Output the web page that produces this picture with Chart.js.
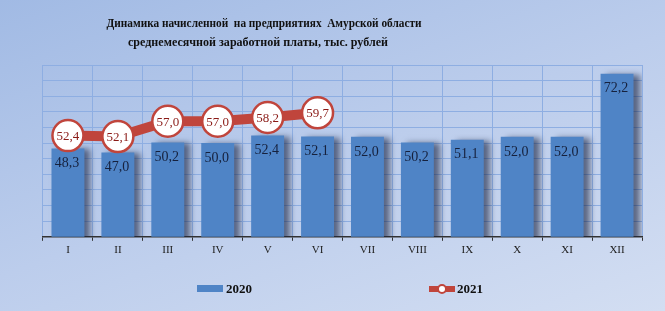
<!DOCTYPE html>
<html>
<head>
<meta charset="utf-8">
<script src="https://cdn.jsdelivr.net/npm/chart.js@4"></script>
<style>
  html, body { margin: 0; padding: 0; }
  body {
    width: 665px; height: 311px; overflow: hidden;
    background: linear-gradient(160deg, #a1bae4 0%, #bccdec 50%, #d3def2 100%);
  }
  #wrap { position: relative; width: 665px; height: 311px; }
</style>
</head>
<body>
<div id="wrap"><canvas id="myChart" width="665" height="311"></canvas></div>
<script>
// data
var months = ["I", "II", "III", "IV", "V", "VI", "VII", "VIII", "IX", "X", "XI", "XII"];
var wage2020 = [48.3, 47.0, 50.2, 50.0, 52.4, 52.1, 52.0, 50.2, 51.1, 52.0, 52.0, 72.2];
var wage2021 = [52.4, 52.1, 57.0, 57.0, 58.2, 59.7, null, null, null, null, null, null];
var seriesNames = ["2020", "2021"];
var titleLines = ["Динамика начисленной  на предприятиях  Амурской области",
                  "среднемесячной заработной платы, тыс. рублей"];

var barColor = '#4f84c6';
var lineColor = '#c0453c';
var gridColor = '#8eaee2';
var serif = "'Liberation Serif', 'Times New Roman', serif";

function fmt(v) { return v.toFixed(1).replace('.', ','); }

// bar shadow
var barShadow = {
  id: 'barShadow',
  beforeDatasetDraw: function (chart, args) {
    if (args.index !== 0) return;
    var ctx = chart.ctx;
    ctx.save();
    ctx.shadowColor = 'rgba(20,30,60,0.6)';
    ctx.shadowBlur = 6;
    ctx.shadowOffsetX = 6;
    ctx.shadowOffsetY = 1;
  },
  afterDatasetDraw: function (chart, args) {
    if (args.index !== 0) return;
    chart.ctx.restore();
  }
};

// value labels, title and legend
var extras = {
  id: 'extras',
  afterDatasetsDraw: function (chart) {
    var ctx = chart.ctx;
    ctx.save();
    ctx.textAlign = 'center';
    ctx.textBaseline = 'middle';

    var bars = chart.getDatasetMeta(0).data;
    ctx.font = '14px ' + serif;
    ctx.fillStyle = '#16213d';
    bars.forEach(function (el, i) {
      ctx.fillText(fmt(wage2020[i]), el.x - 1, el.y + 15);
    });

    var pts = chart.getDatasetMeta(1).data;
    ctx.font = '13px ' + serif;
    ctx.fillStyle = '#8a1a16';
    pts.forEach(function (el, i) {
      if (wage2021[i] == null) return;
      ctx.fillText(fmt(wage2021[i]), el.x, el.y + 1);
    });
    ctx.restore();
  },
  afterDraw: function (chart) {
    var ctx = chart.ctx;
    ctx.save();
    ctx.textAlign = 'center';
    ctx.textBaseline = 'middle';
    ctx.fillStyle = '#111';
    ctx.font = 'bold 13px ' + serif;
    ctx.fillText(titleLines[0], 264, 24, 315);
    ctx.fillText(titleLines[1], 258, 43, 260);

    // legend
    var ly = 289;
    ctx.fillStyle = barColor;
    ctx.fillRect(197, ly - 4, 26, 7);
    ctx.strokeStyle = lineColor;
    ctx.lineWidth = 6;
    ctx.beginPath();
    ctx.moveTo(429, ly);
    ctx.lineTo(455, ly);
    ctx.stroke();
    ctx.beginPath();
    ctx.arc(442, ly, 4, 0, Math.PI * 2);
    ctx.fillStyle = '#fff';
    ctx.fill();
    ctx.lineWidth = 2;
    ctx.stroke();

    ctx.textAlign = 'left';
    ctx.fillStyle = '#111';
    ctx.font = 'bold 13px ' + serif;
    ctx.fillText(seriesNames[0], 226, ly + 1);
    ctx.fillText(seriesNames[1], 457, ly + 1);
    ctx.restore();
  }
};

var ctx = document.getElementById("myChart");
var myChart = new Chart(ctx, {
  type: 'bar',
  data: {
    labels: months,
    datasets: [{
      label: seriesNames[0],
      data: wage2020,
      backgroundColor: barColor,
      barPercentage: 0.66,
      categoryPercentage: 1.0,
      order: 2
    }, {
      type: 'line',
      label: seriesNames[1],
      data: wage2021,
      borderColor: lineColor,
      borderWidth: 10,
      pointRadius: 15.5,
      pointHoverRadius: 15.5,
      pointBackgroundColor: '#ffffff',
      pointBorderColor: lineColor,
      pointBorderWidth: 2.5,
      spanGaps: false,
      order: 1
    }]
  },
  options: {
    responsive: false,
    animation: false,
    layout: { padding: { top: 65, left: 43, right: 23, bottom: 51 } },
    plugins: {
      legend: { display: false },
      title: { display: false },
      tooltip: { enabled: false }
    },
    scales: {
      x: {
        grid: { color: gridColor, offset: true, tickLength: 4, tickColor: '#333' },
        border: { color: '#333', width: 1.5 },
        ticks: { color: '#222', font: { family: serif, size: 11 }, padding: 3 }
      },
      y: {
        min: 20,
        max: 75,
        grid: { color: gridColor, drawTicks: false },
        border: { display: false },
        ticks: { display: false, stepSize: 5 }
      }
    }
  },
  plugins: [barShadow, extras]
});
</script>
</body>
</html>
